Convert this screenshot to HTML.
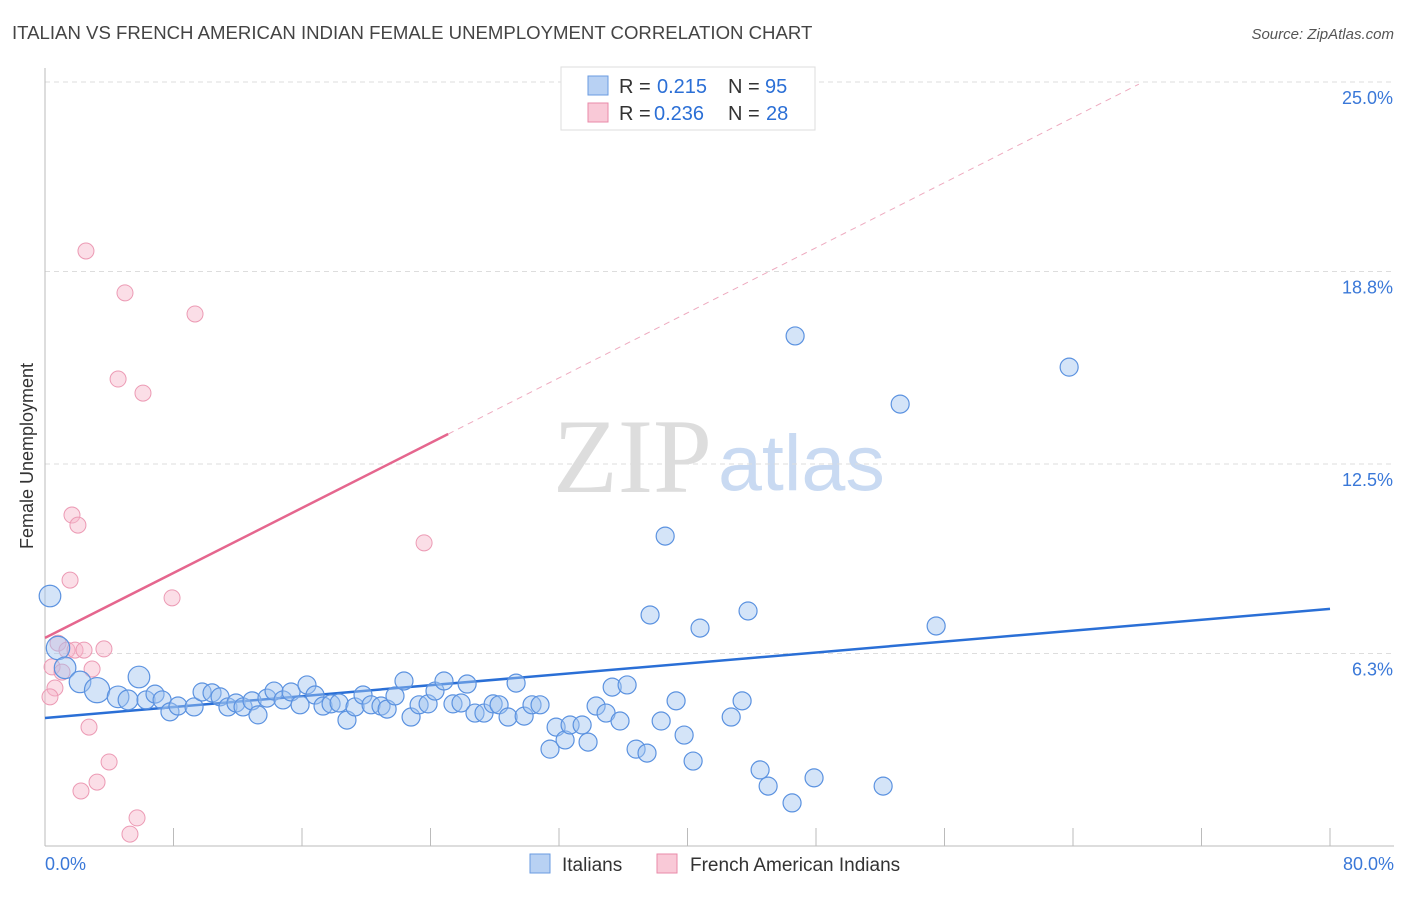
<!DOCTYPE html>
<html><head><meta charset="utf-8"><style>
body{margin:0;background:#fff;font-family:"Liberation Sans",sans-serif;}
svg text{font-family:"Liberation Sans",sans-serif;}
</style></head><body>
<svg id="chart" width="1406" height="892" xmlns="http://www.w3.org/2000/svg">
<text x="12" y="39" font-size="18.6" fill="#444">ITALIAN VS FRENCH AMERICAN INDIAN FEMALE UNEMPLOYMENT CORRELATION CHART</text>
<text x="1394" y="39" font-size="15" fill="#555" text-anchor="end" font-style="italic">Source: ZipAtlas.com</text>
<text transform="translate(33,456) rotate(-90)" font-size="18" fill="#333" text-anchor="middle">Female Unemployment</text>
<g>
<text x="553" y="492" font-size="106" fill="#ddd" style="font-family:'Liberation Serif',serif">ZIP</text>
<text x="718" y="490" font-size="79" fill="#c9daf2">atlas</text>
</g>
<g id="grid"></g><g id="axes"></g><g id="lines"></g><g id="pts"></g>
<g>
<rect x="561" y="67" width="254" height="63" fill="#fff" stroke="#ddd"/>
<rect x="588" y="76" width="20" height="19" fill="#b8d1f3" stroke="#6a9be0"/>
<text x="619" y="93" font-size="20" fill="#333">R = </text><text x="657" y="93" font-size="20" fill="#2b6fd6">0.215</text>
<text x="728" y="93" font-size="20" fill="#333">N = </text><text x="765" y="93" font-size="20" fill="#2b6fd6">95</text>
<rect x="588" y="103" width="20" height="19" fill="#f9c9d7" stroke="#e98aa8"/>
<text x="619" y="120" font-size="20" fill="#333">R = </text><text x="654" y="120" font-size="20" fill="#2b6fd6">0.236</text>
<text x="728" y="120" font-size="20" fill="#333">N = </text><text x="766" y="120" font-size="20" fill="#2b6fd6">28</text>
</g>
<g>
<rect x="530" y="854" width="20" height="19" fill="#b8d1f3" stroke="#6a9be0"/>
<text x="562" y="871" font-size="19" fill="#333">Italians</text>
<rect x="657" y="854" width="20" height="19" fill="#f9c9d7" stroke="#e98aa8"/>
<text x="690" y="871" font-size="19" fill="#333">French American Indians</text>
</g>
</svg>
<script>
const yTicks=[6.3,12.5,18.8,25.0];
const yTickLabels=["6.3%","12.5%","18.8%","25.0%"];
const xTickLabels=["0.0%","80.0%"];
const blueX=[0.31,0.81,1.25,2.18,3.24,4.55,5.17,5.85,6.29,6.85,7.29,7.78,8.28,9.28,9.78,10.40,10.90,11.39,11.89,12.33,12.89,13.26,13.82,14.26,14.82,15.32,15.88,16.31,16.81,17.31,17.81,18.31,18.80,19.30,19.80,20.30,20.92,21.30,21.79,22.35,22.79,23.29,23.85,24.28,24.84,25.40,25.90,26.28,26.77,27.33,27.90,28.27,28.83,29.33,29.83,30.32,30.82,31.44,31.82,32.38,32.69,33.44,33.81,34.31,34.93,35.31,35.80,36.24,36.80,37.48,37.67,38.36,38.61,39.29,39.79,40.35,40.78,41.72,42.72,43.40,43.77,44.52,45.02,46.51,46.70,47.88,52.18,53.24,55.48,63.76];
const blueY=[8.18,6.48,5.83,5.37,5.10,4.88,4.78,5.53,4.78,4.97,4.78,4.39,4.58,4.55,5.04,5.01,4.88,4.55,4.68,4.55,4.75,4.29,4.84,5.07,4.78,5.04,4.62,5.27,4.94,4.58,4.65,4.68,4.12,4.55,4.94,4.62,4.58,4.48,4.91,5.40,4.22,4.62,4.65,5.07,5.40,4.65,4.68,5.30,4.35,4.35,4.65,4.62,4.22,5.33,4.25,4.62,4.62,3.17,3.89,3.47,3.96,3.96,3.40,4.58,4.35,5.20,4.09,5.27,3.17,3.04,7.56,4.09,10.14,4.75,3.63,2.78,7.13,24.84,4.22,4.75,7.69,2.49,1.96,1.41,16.69,2.23,1.96,14.46,7.20,15.67];
const blueW=[1.2,1.3,1.2,1.2,1.4,1.2,1.1,1.2];
const pinkX=[2.55,4.98,9.34,4.55,6.10,1.68,2.05,1.56,7.91,23.60,0.81,1.37,1.87,2.43,3.67,2.93,0.44,0.62,0.31,1.06,2.74,3.99,3.24,2.24,5.73,5.29];
const pinkY=[19.47,18.10,17.41,15.28,14.82,10.83,10.50,8.70,8.12,9.92,6.64,6.41,6.41,6.41,6.45,5.79,5.86,5.17,4.88,5.69,3.89,2.75,2.09,1.80,0.92,0.39];
const blueTrend=[4.19,7.76];
const pinkTrend=[6.81,13.48,24.93];
const pinkTrendX=[0,25.1,68.1];

const NS="http://www.w3.org/2000/svg";
const X0=45,X1=1330,Y0=846,PPY=30.56;
const sx=v=>X0+v*(X1-X0)/80, sy=v=>Y0-v*PPY;
function mk(t,a,p){const e=document.createElementNS(NS,t);for(const k in a)e.setAttribute(k,a[k]);p.appendChild(e);return e;}
const grid=document.getElementById('grid'),axes=document.getElementById('axes'),lines=document.getElementById('lines'),pts=document.getElementById('pts');
yTicks.forEach((v,i)=>{
 const l=mk('line',{x1:X0,x2:1394,y1:sy(v),y2:sy(v),stroke:'#ddd','stroke-dasharray':'5,4'},grid);
 
 
 const t=mk('text',{x:1393,y:sy(v)+22,'font-size':18,fill:'#3a78d8','text-anchor':'end'},axes);t.textContent=yTickLabels[i];
 
 
});
const ax=mk('line',{x1:X0,x2:X0,y1:68,y2:846,stroke:'#bbb'},axes);


const bx=mk('line',{x1:X0,x2:1394,y1:846,y2:846,stroke:'#bbb'},axes);


for(let i=1;i<=10;i++){const x=sx(i*8);const tk=mk('line',{x1:x,x2:x,y1:828,y2:846,stroke:'#bbb'},axes);
 
 }
[[0,'start',45],[80,'end',1394]].forEach((d,i)=>{const t=mk('text',{x:d[2],y:870,'font-size':18,fill:'#3a78d8','text-anchor':d[1]},axes);t.textContent=xTickLabels[i];
 
 });
pinkX.forEach((x,i)=>{const c=mk('circle',{cx:sx(x),cy:sy(pinkY[i]),r:8,fill:'rgba(246,182,202,0.45)',stroke:'#ec9ab4','stroke-width':1},pts);
 
 });
blueX.forEach((x,i)=>{const c=mk('circle',{cx:sx(x),cy:sy(blueY[i]),r:9*(blueW[i]||1),fill:'rgba(160,195,240,0.45)',stroke:'#5b92e0','stroke-width':1.2},pts);
 
 });
const bl=mk('line',{x1:sx(0),y1:sy(blueTrend[0]),x2:sx(80),y2:sy(blueTrend[1]),stroke:'#2a6fd6','stroke-width':2.5},lines);


const pl=mk('line',{x1:sx(pinkTrendX[0]),y1:sy(pinkTrend[0]),x2:sx(pinkTrendX[1]),y2:sy(pinkTrend[1]),stroke:'#e5668e','stroke-width':2.5},lines);


const pd=mk('line',{x1:sx(pinkTrendX[1]),y1:sy(pinkTrend[1]),x2:sx(pinkTrendX[2]),y2:sy(pinkTrend[2]),stroke:'#eeaabf','stroke-width':1,'stroke-dasharray':'6,5'},lines);


</script>
</body></html>
